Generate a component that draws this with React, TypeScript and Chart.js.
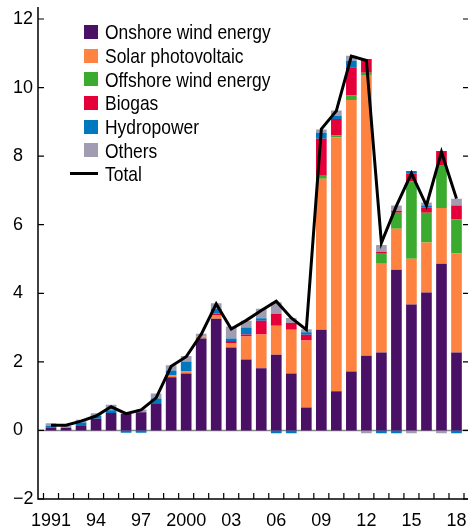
import React, { useEffect, useRef } from 'react';
import { Chart, registerables } from 'chart.js';

Chart.register(...registerables);

// ---- Data (GW of net additions per year) ----
const years = [
  '1991', '1992', '1993', '1994', '1995', '1996', '1997', '1998', '1999', '2000',
  '2001', '2002', '2003', '2004', '2005', '2006', '2007', '2008', '2009', '2010',
  '2011', '2012', '2013', '2014', '2015', '2016', '2017', '2018',
];

const shownYears = ['1991', '1994', '1997', '2000', '2003', '2006', '2009', '2012', '2015', '2018'];
const shownLabels = ['1991', '94', '97', '2000', '03', '06', '09', '12', '15', '18'];

const onshore = [
  0.08, 0.08, 0.13, 0.34, 0.51, 0.49, 0.53, 0.79, 1.55, 1.66,
  2.68, 3.26, 2.42, 2.07, 1.81, 2.21, 1.66, 0.67, 2.94, 1.14,
  1.72, 2.18, 2.27, 4.69, 3.67, 4.02, 4.86, 2.27,
];
const solar = [
  0, 0, 0, 0, 0, 0, 0, 0, 0.05, 0.06,
  0.05, 0.09, 0.13, 0.67, 0.99, 0.84, 1.28, 1.95, 4.40, 7.41,
  7.92, 8.19, 2.59, 1.19, 1.34, 1.46, 1.63, 2.89,
];
const offshore = [
  0, 0, 0, 0, 0, 0, 0, 0, 0, 0,
  0, 0, 0, 0, 0, 0, 0, 0, 0.09, 0.06,
  0.13, 0.06, 0.29, 0.47, 2.26, 0.87, 1.25, 0.99,
];
const biogas = [
  0, 0, 0, 0, 0, 0, 0, 0, 0, 0,
  0, 0.06, 0.06, 0.06, 0.40, 0.35, 0.19, 0.17, 1.08, 0.47,
  0.82, 0.40, 0.06, 0.06, 0.22, 0.15, 0.41, 0.41,
];
const hydro = [
  0.05, 0, 0.10, 0.08, 0.08, -0.07, -0.07, 0.14, 0.15, 0.29,
  0, 0.14, 0.07, 0.20, 0.07, -0.08, -0.08, 0.07, 0.17, 0.10,
  0.19, 0, -0.08, -0.08, 0.08, 0.06, 0, -0.08,
];
const others = [
  0.08, 0.05, 0.08, 0.08, 0.16, 0, 0.08, 0.15, 0.15, 0.16,
  0.09, 0.16, 0.35, 0.20, 0.28, 0.34, 0.15, 0.09, 0.10, 0.15,
  0.15, -0.08, 0.20, 0.15, -0.08, 0.09, -0.08, 0.20,
];
const total = [
  0.15, 0.15, 0.27, 0.42, 0.69, 0.49, 0.60, 0.95, 1.87, 2.15,
  2.80, 3.69, 2.96, 3.21, 3.50, 3.77, 3.28, 2.94, 8.79, 9.32,
  10.92, 10.79, 5.47, 6.55, 7.50, 6.56, 8.12, 6.76,
];

const seriesNames = [
  'Onshore wind energy',
  'Solar photovoltaic',
  'Offshore wind energy',
  'Biogas',
  'Hydropower',
  'Others',
];
const seriesColors = ['#4a1066', '#ff8340', '#3aab2e', '#e6003a', '#0078bf', '#a19cb1'];
const seriesValues = [onshore, solar, offshore, biogas, hydro, others];
const totalName = 'Total';

const yMin = -2;
const yMax = 12.35;
const yStep = 2;

// ---- Styles ----
const TICK_FONT = { family: "'Liberation Sans', Arial, Helvetica, sans-serif", size: 18 };
const LEGEND_FONT = "'Liberation Sans', Arial, Helvetica, sans-serif";
const LEFT_GAP = 5.5;
const RIGHT_GAP = 4;

const axesFrame = {
  id: 'axesFrame',
  beforeDatasetsDraw(chart: any) {
    const { ctx, chartArea, scales } = chart;
    const z = scales.y.getPixelForValue(0);
    ctx.save();
    ctx.strokeStyle = '#8a8a8a';
    ctx.lineWidth = 1.5;
    ctx.beginPath();
    ctx.moveTo(chartArea.left - LEFT_GAP, z);
    ctx.lineTo(chartArea.right + RIGHT_GAP, z);
    ctx.stroke();
    ctx.restore();
  },
  afterDraw(chart: any) {
    const { ctx, chartArea, scales } = chart;
    const xs = scales.x;
    const ys = scales.y;
    const left = chartArea.left - LEFT_GAP;
    const right = chartArea.right + RIGHT_GAP;
    const bottom = chartArea.bottom;
    ctx.save();
    ctx.strokeStyle = '#000';
    ctx.lineWidth = 1.5;
    ctx.beginPath();
    ctx.moveTo(left, chartArea.top);
    ctx.lineTo(left, bottom);
    ctx.lineTo(right, bottom);
    ctx.stroke();
    ctx.lineWidth = 1.2;
    ctx.beginPath();
    ys.ticks.forEach((t: any) => {
      const py = ys.getPixelForValue(t.value);
      ctx.moveTo(left, py);
      ctx.lineTo(left + 6, py);
      ctx.moveTo(right, py);
      ctx.lineTo(right - 5, py);
    });
    for (let i = 0; i <= years.length; i++) {
      const px = xs.getPixelForValue(i - 0.5);
      ctx.moveTo(px, bottom);
      ctx.lineTo(px, bottom - 6);
    }
    ctx.stroke();
    ctx.restore();
  },
};

export default function App() {
  const canvasRef = useRef<HTMLCanvasElement | null>(null);

  useEffect(() => {
    document.body.style.margin = '0';
    const canvas = canvasRef.current;
    if (!canvas) return;
    const datasets: any[] = seriesNames.map((name, i) => ({
      type: 'bar',
      label: name,
      data: seriesValues[i],
      backgroundColor: seriesColors[i],
      borderWidth: 0,
      barPercentage: 0.71,
      categoryPercentage: 1.0,
      stack: 'sources',
    }));
    datasets.push({
      type: 'line',
      label: totalName,
      data: total,
      borderColor: '#000',
      borderWidth: 3,
      pointRadius: 0,
      tension: 0,
      fill: false,
      stack: 'total',
      order: -1,
    });
    const chart = new Chart(canvas, {
      type: 'bar',
      data: { labels: years, datasets },
      options: {
        responsive: false,
        animation: false,
        layout: { padding: { left: 13, right: RIGHT_GAP, top: 7, bottom: 0 } },
        plugins: { legend: { display: false }, tooltip: { enabled: false } },
        scales: {
          x: {
            stacked: true,
            offset: true,
            grid: { display: false },
            border: { display: false },
            ticks: {
              autoSkip: false,
              maxRotation: 0,
              minRotation: 0,
              padding: 3,
              color: '#000',
              font: TICK_FONT,
              callback: (v: any, i: number) => {
                const k = shownYears.indexOf(years[i]);
                return k >= 0 ? shownLabels[k] : '';
              },
            },
            afterFit: (s: any) => { s.height = 30; s.paddingLeft = 0; s.paddingRight = 0; },
          },
          y: {
            stacked: true,
            min: yMin,
            max: yMax,
            grid: { display: false },
            border: { display: false },
            ticks: {
              stepSize: yStep,
              includeBounds: false,
              crossAlign: 'far',
              color: '#000',
              font: TICK_FONT,
              callback: (v: any) => (v < 0 ? '\u2212' + Math.abs(v) : String(v)),
            },
            afterFit: (s: any) => { s.width = 30.5; s.paddingTop = 0; s.paddingBottom = 0; },
          },
        },
      },
      plugins: [axesFrame],
    });
    return () => chart.destroy();
  }, []);

  const rowH = 23.7;
  const textStyle: React.CSSProperties = {
    display: 'inline-block',
    lineHeight: 1,
    transform: 'scaleX(0.83)',
    transformOrigin: 'left center',
  };
  return (
    <div style={{ position: 'relative', width: 468, height: 529 }}>
      <canvas ref={canvasRef} width={468} height={529} style={{ display: 'block', width: 468, height: 529 }} />
      <div style={{ position: 'absolute', left: 70, top: 20, fontFamily: LEGEND_FONT, fontSize: 21, color: '#000' }}>
        {seriesNames.map((name, i) => (
          <div key={name} style={{ height: rowH, display: 'flex', alignItems: 'center', whiteSpace: 'nowrap' }}>
            <span style={{ display: 'inline-block', width: 14, height: 14, marginLeft: 14, marginRight: 7, background: seriesColors[i] }} />
            <span style={textStyle}>{name}</span>
          </div>
        ))}
        <div style={{ height: rowH, display: 'flex', alignItems: 'center', whiteSpace: 'nowrap' }}>
          <span style={{ display: 'inline-block', width: 28, height: 3, marginRight: 7, background: '#000' }} />
          <span style={textStyle}>{totalName}</span>
        </div>
      </div>
    </div>
  );
}
